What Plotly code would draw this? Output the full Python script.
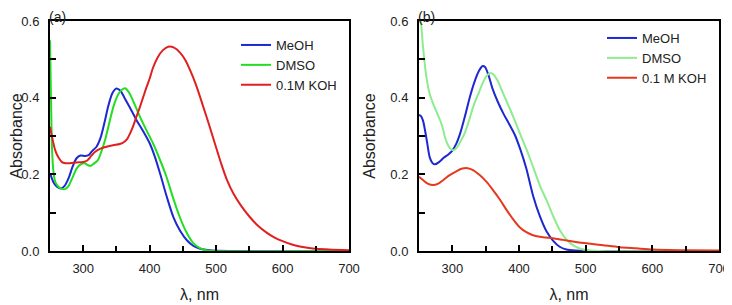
import plotly.graph_objects as go

# ---------------- data: panel (a) ----------------
wl_meoh_a = [250, 255, 260, 266, 272, 278, 284, 290, 296, 303, 308, 313, 320, 326, 332, 338, 344, 350,
             356, 362, 370, 380, 390, 400, 408, 416, 426, 436, 446, 456, 466, 476, 490, 520, 700]
abs_meoh_a = [0.203, 0.180, 0.168, 0.163, 0.170, 0.190, 0.220, 0.242, 0.249, 0.248, 0.250, 0.260, 0.272,
              0.295, 0.335, 0.380, 0.412, 0.424, 0.418, 0.400, 0.375, 0.342, 0.313, 0.281, 0.245, 0.200,
              0.140, 0.087, 0.052, 0.028, 0.013, 0.006, 0.002, 0.0, 0.0]

wl_dmso_a = [250, 251, 252, 253, 255, 258, 263, 268, 273, 278, 284, 290, 296, 302, 307, 311, 316, 322, 327,
             333, 340, 347, 354, 360, 364, 370, 378, 386, 396, 405, 415, 425, 435, 445, 455, 465, 475, 485,
             495, 700]
abs_dmso_a = [0.55, 0.45, 0.35, 0.27, 0.21, 0.18, 0.167, 0.162, 0.162, 0.170, 0.192, 0.215, 0.226, 0.229,
              0.224, 0.222, 0.228, 0.237, 0.258, 0.290, 0.340, 0.385, 0.412, 0.423, 0.424, 0.410, 0.380,
              0.348, 0.312, 0.281, 0.240, 0.195, 0.140, 0.090, 0.050, 0.022, 0.008, 0.002, 0.0, 0.0]

wl_koh_a = [250, 254, 258, 263, 268, 273, 280, 290, 300, 306, 312, 318, 326, 335, 345, 355, 362, 366, 370,
            375, 380, 385, 390, 395, 400, 405, 412, 420, 428, 436, 446, 454, 462, 470, 480, 490, 500, 508,
            516, 526, 538, 551, 563, 576, 588, 601, 614, 626, 640, 651, 670, 700]
abs_koh_a = [0.324, 0.290, 0.262, 0.243, 0.232, 0.229, 0.229, 0.231, 0.232, 0.236, 0.248, 0.259, 0.267,
             0.272, 0.276, 0.279, 0.285, 0.292, 0.305, 0.325, 0.350, 0.374, 0.400, 0.426, 0.450, 0.478,
             0.505, 0.524, 0.533, 0.531, 0.517, 0.497, 0.467, 0.432, 0.380, 0.326, 0.270, 0.226, 0.187,
             0.150, 0.117, 0.088, 0.066, 0.048, 0.035, 0.025, 0.017, 0.012, 0.008, 0.006, 0.004, 0.002]

# ---------------- data: panel (b) ----------------
wl_meoh_b = [250, 253, 256, 259, 262, 266, 270, 274, 280, 287, 294, 300, 306, 312, 319, 326, 333, 340, 345,
             349, 354, 360, 368, 377, 385, 394, 402, 411, 421, 431, 441, 451, 461, 471, 485, 500, 700]
abs_meoh_b = [0.355, 0.352, 0.340, 0.315, 0.285, 0.245, 0.230, 0.226, 0.232, 0.243, 0.252, 0.262, 0.280,
              0.308, 0.352, 0.400, 0.440, 0.470, 0.482, 0.480, 0.460, 0.425, 0.390, 0.357, 0.332, 0.302,
              0.265, 0.215, 0.145, 0.092, 0.052, 0.027, 0.011, 0.004, 0.001, 0.0, 0.0]

wl_dmso_b = [250, 253, 256, 261, 266, 271, 277, 283, 286, 289, 293, 297, 301, 306, 312, 318, 325, 332, 339,
             346, 352, 357, 362, 368, 374, 381, 389, 397, 405, 412, 422, 432, 442, 452, 462, 472, 482, 492,
             505, 520, 700]
abs_dmso_b = [0.68, 0.60, 0.533, 0.455, 0.41, 0.385, 0.360, 0.335, 0.318, 0.296, 0.278, 0.267, 0.263,
              0.268, 0.285, 0.305, 0.340, 0.380, 0.410, 0.440, 0.458, 0.464, 0.460, 0.444, 0.420, 0.392,
              0.360, 0.326, 0.291, 0.262, 0.215, 0.168, 0.130, 0.088, 0.052, 0.028, 0.014, 0.006, 0.002,
              0.0, 0.0]

wl_koh_b = [250, 256, 263, 271, 279, 287, 296, 306, 315, 323, 331, 341, 351, 361, 371, 381, 391, 401, 411,
            421, 431, 441, 451, 466, 481, 501, 526, 551, 576, 601, 650, 700]
abs_koh_b = [0.194, 0.185, 0.176, 0.172, 0.176, 0.186, 0.198, 0.208, 0.215, 0.216, 0.211, 0.198, 0.181,
             0.159, 0.135, 0.108, 0.083, 0.062, 0.049, 0.041, 0.037, 0.035, 0.033, 0.029, 0.025, 0.020,
             0.015, 0.010, 0.007, 0.004, 0.002, 0.001]

names_a = ["MeOH", "DMSO", "0.1M KOH"]
names_b = ["MeOH", "DMSO", "0.1 M KOH"]

BLUE = "#1c28d0"
GREEN_A = "#22dd22"
GREEN_B = "#8eec8e"
RED_A = "#e02020"
RED_B = "#e6381e"
FONT = "Liberation Sans, Arial, sans-serif"

fig = go.Figure()

def add(x, y, name, color, xa, ya, leg):
    fig.add_trace(go.Scatter(x=x, y=y, name=name, mode="lines",
                             line=dict(color=color, width=2, shape="spline", smoothing=0.8),
                             xaxis=xa, yaxis=ya, legend=leg))

add(wl_meoh_a, abs_meoh_a, names_a[0], BLUE, "x", "y", "legend")
add(wl_dmso_a, abs_dmso_a, names_a[1], GREEN_A, "x", "y", "legend")
add(wl_koh_a, abs_koh_a, names_a[2], RED_A, "x", "y", "legend")
add(wl_meoh_b, abs_meoh_b, names_b[0], BLUE, "x2", "y2", "legend2")
add(wl_dmso_b, abs_dmso_b, names_b[1], GREEN_B, "x2", "y2", "legend2")
add(wl_koh_b, abs_koh_b, names_b[2], RED_B, "x2", "y2", "legend2")

# page has an 8px body margin; the figure fills the rest of the window
OFF = 8
W, H = 732 - OFF, 305 - OFF


def fx(px):
    return (px - OFF) / W


def fy(py):
    return 1 - (py - OFF) / H


ydom = [fy(251), fy(21)]

xcommon = dict(range=[250, 700], tickvals=[300, 400, 500, 600, 700], ticks="inside", ticklen=6,
               tickwidth=1.5, tickcolor="#000", showline=True, linecolor="#000", linewidth=2,
               mirror=True, showgrid=False, zeroline=False, automargin=False,
               minor=dict(tickvals=[350, 450, 550, 650], ticks="inside", ticklen=5, tickwidth=1.5,
                          tickcolor="#000", showgrid=False),
               tickfont=dict(family=FONT, size=13, color="#222"), ticklabelstandoff=4,
               title=dict(text="λ, nm", font=dict(family=FONT, size=16, color="#222"), standoff=14))
ycommon = dict(range=[0, 0.6], tickvals=[0.0, 0.2, 0.4, 0.6], tickformat=".1f", ticks="inside",
               ticklen=6, tickwidth=1.5, tickcolor="#000", showline=True, linecolor="#000", linewidth=2,
               mirror=True, showgrid=False, zeroline=False, automargin=False,
               minor=dict(tickvals=[0.1, 0.3, 0.5], ticks="inside", ticklen=6, tickwidth=1.5,
                          tickcolor="#000", showgrid=False),
               tickfont=dict(family=FONT, size=13, color="#222"), ticklabelstandoff=6,
               title=dict(text="Absorbance", font=dict(family=FONT, size=16, color="#222"), standoff=11))

fig.update_layout(
    width=W, height=H, margin=dict(l=0, r=0, t=0, b=0, autoexpand=False),
    paper_bgcolor="white", plot_bgcolor="white",
    xaxis=dict(domain=[fx(50), fx(349)], anchor="y", **xcommon),
    yaxis=dict(domain=ydom, anchor="x", **ycommon),
    xaxis2=dict(domain=[fx(419), fx(719)], anchor="y2", **xcommon),
    yaxis2=dict(domain=ydom, anchor="x2", **ycommon),
    legend=dict(x=fx(236), y=fy(30), xanchor="left", yanchor="top", bgcolor="rgba(0,0,0,0)",
                font=dict(family=FONT, size=13, color="#222"), tracegroupgap=0),
    legend2=dict(x=fx(602), y=fy(23), xanchor="left", yanchor="top", bgcolor="rgba(0,0,0,0)",
                 font=dict(family=FONT, size=13, color="#222"), tracegroupgap=0),
    annotations=[
        dict(text="(a)", x=fx(48), y=1, xref="paper", yref="paper", xanchor="left",
             yanchor="top", showarrow=False, borderpad=0, font=dict(family=FONT, size=14, color="#222")),
        dict(text="(b)", x=fx(417), y=1, xref="paper", yref="paper", xanchor="left",
             yanchor="top", showarrow=False, borderpad=0, font=dict(family=FONT, size=14, color="#222")),
    ],
)

fig.write_html("out.html")
